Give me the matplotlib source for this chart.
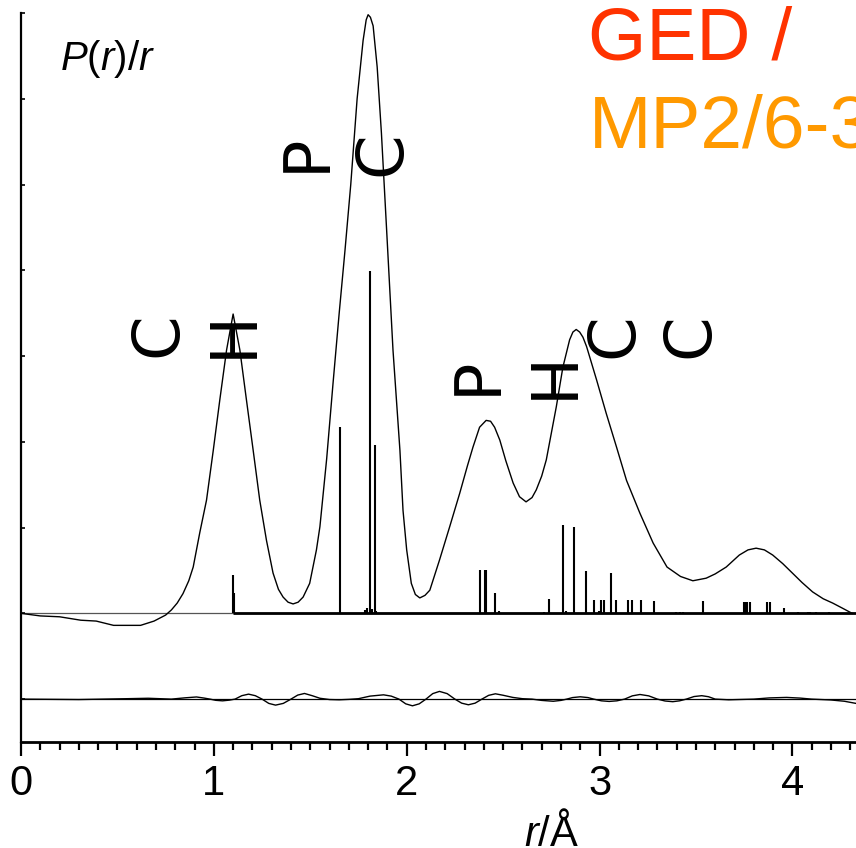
import matplotlib
matplotlib.use("Agg")
import matplotlib.pyplot as plt
import numpy as np

plt.rcParams['font.family'] = ['Liberation Sans', 'DejaVu Sans']
plt.rcParams['mathtext.fontset'] = 'custom'
plt.rcParams['mathtext.it'] = 'Liberation Sans:italic'
plt.rcParams['mathtext.rm'] = 'Liberation Sans'

# ---- data ----
r_curve = [0.00, 0.10, 0.20, 0.31, 0.39, 0.48, 0.62, 0.69, 0.75, 0.78, 0.81, 0.84, 0.87, 0.893,
           0.927, 0.962, 0.997, 1.031, 1.066, 1.100, 1.135, 1.169, 1.204, 1.238, 1.273, 1.307,
           1.335, 1.359, 1.385, 1.411, 1.437, 1.463, 1.497, 1.532, 1.55, 1.585, 1.618, 1.65,
           1.68, 1.71, 1.743, 1.774, 1.79, 1.80, 1.812, 1.826, 1.847, 1.869, 1.896, 1.929,
           1.965, 1.981, 2.00, 2.024, 2.045, 2.068, 2.095, 2.12, 2.17, 2.223, 2.275, 2.315,
           2.344, 2.378, 2.412, 2.435, 2.456, 2.483, 2.514, 2.552, 2.585, 2.619, 2.65, 2.672,
           2.70, 2.724, 2.776, 2.81, 2.845, 2.862, 2.879, 2.897, 2.914, 2.933, 2.985, 3.035,
           3.088, 3.14, 3.209, 3.278, 3.35, 3.42, 3.484, 3.553, 3.60, 3.657, 3.725, 3.77,
           3.812, 3.855, 3.898, 3.95, 4.00, 4.05, 4.105, 4.16, 4.209, 4.26, 4.31]
p_curve = [0.00, -0.03, -0.04, -0.08, -0.09, -0.14, -0.14, -0.09, -0.02, 0.04, 0.12, 0.23, 0.38, 0.54,
           0.94, 1.32, 1.90, 2.49, 3.07, 3.49, 3.07, 2.49, 1.90, 1.32, 0.85, 0.47,
           0.28, 0.19, 0.13, 0.11, 0.13, 0.19, 0.35, 0.74, 1.01, 1.80, 2.68, 3.50,
           4.23, 5.00, 6.00, 6.68, 6.92, 6.98, 6.95, 6.85, 6.37, 5.60, 4.47, 3.07,
           1.90, 1.20, 0.74, 0.35, 0.22, 0.18, 0.21, 0.27, 0.62, 1.01, 1.40, 1.72,
           1.94, 2.17, 2.25, 2.24, 2.17, 2.02, 1.78, 1.52, 1.36, 1.30, 1.35, 1.44,
           1.60, 1.79, 2.41, 2.87, 3.19, 3.28, 3.31, 3.28, 3.22, 3.11, 2.72, 2.33,
           1.94, 1.55, 1.17, 0.82, 0.54, 0.43, 0.38, 0.41, 0.46, 0.54, 0.68, 0.74,
           0.76, 0.74, 0.68, 0.58, 0.47, 0.36, 0.25, 0.17, 0.12, 0.06, 0.00]

r_diff = [0.00, 0.30, 0.55, 0.66, 0.78, 0.85, 0.91, 0.95, 0.98, 1.01, 1.045, 1.08, 1.11, 1.145,
          1.18, 1.215, 1.25, 1.285, 1.32, 1.36, 1.40, 1.435, 1.47, 1.51, 1.55, 1.60, 1.65, 1.70,
          1.75, 1.81, 1.88, 1.92, 1.96, 1.995, 2.03, 2.065, 2.10, 2.135, 2.17, 2.21, 2.25, 2.285,
          2.32, 2.355, 2.39, 2.425, 2.46, 2.50, 2.55, 2.60, 2.65, 2.70, 2.76, 2.80, 2.83, 2.86,
          2.90, 2.94, 2.97, 3.01, 3.05, 3.09, 3.13, 3.17, 3.21, 3.255, 3.30, 3.34, 3.38, 3.415,
          3.45, 3.49, 3.53, 3.565, 3.60, 3.67, 3.80, 3.88, 3.97, 4.04, 4.10, 4.20, 4.27, 4.33]
d_diff = [0.00, -0.005, 0.005, 0.01, 0.00, 0.015, 0.025, 0.012, 0.00, -0.014, -0.02, -0.012, 0.00, 0.04,
          0.058, 0.04, 0.00, -0.05, -0.07, -0.05, 0.00, 0.047, 0.066, 0.04, 0.01, -0.005, -0.008, -0.003,
          0.005, 0.035, 0.05, 0.035, 0.00, -0.055, -0.078, -0.055, 0.00, 0.064, 0.09, 0.064, 0.00, -0.047,
          -0.066, -0.047, 0.00, 0.044, 0.062, 0.045, 0.02, 0.005, 0.00, -0.015, -0.025, -0.015, 0.00, 0.018,
          0.027, 0.018, 0.00, -0.02, -0.027, -0.02, 0.00, 0.038, 0.054, 0.038, 0.00, -0.022, -0.03, -0.02,
          0.00, 0.03, 0.04, 0.028, 0.00, -0.008, 0.00, 0.014, 0.02, 0.012, 0.00, -0.01, -0.025, -0.05]

stick_r = [1.097, 1.103, 1.656, 1.782, 1.792, 1.808, 1.818, 1.834, 1.842,
           2.378, 2.404, 2.413, 2.460, 2.478, 2.710, 2.737, 2.813, 2.827, 2.866,
           2.931, 2.969, 2.995, 3.008, 3.022, 3.062, 3.086, 3.148, 3.167, 3.216,
           3.282, 3.397, 3.415, 3.432, 3.535, 3.748, 3.757, 3.763, 3.782, 3.868,
           3.884, 3.958, 4.030, 4.080, 4.090, 4.120, 4.190]
stick_h = [0.45, 0.24, 2.17, 0.04, 0.06, 3.99, 0.05, 1.96, 0.03,
           0.50, 0.50, 0.50, 0.24, 0.03, 0.02, 0.17, 1.03, 0.03, 1.01,
           0.49, 0.16, 0.03, 0.16, 0.16, 0.47, 0.15, 0.15, 0.15, 0.15,
           0.14, 0.02, 0.02, 0.02, 0.14, 0.13, 0.13, 0.13, 0.13, 0.13,
           0.13, 0.06, 0.02, 0.02, 0.02, 0.02, 0.02]

atom_labels = ["C", "H", "P", "C", "P", "H", "C", "C"]
x_ticks = [0, 1, 2, 3, 4]
x_tick_labels = ["0", "1", "2", "3", "4"]
y_ticks = [-1, 0, 1, 2, 3, 4, 5, 6, 7]

# ---- figure ----
W, H = 856, 848
fig = plt.figure(figsize=(W / 100, H / 100), dpi=100)
ax = fig.add_axes([21 / W, 106 / H, 835 / W, 729 / H])
ax.set_xlim(0, 4.33)
ax.set_ylim(-1.5, 7.0)

# reference lines
ax.axhline(0, color='#555555', lw=0.9, zorder=1)
ax.axhline(-1, color='black', lw=0.9, zorder=1)

# stick baseline + sticks
ax.plot([min(stick_r), 4.33], [0, 0], color='black', lw=2.0, solid_capstyle='butt', zorder=2)
ax.vlines(stick_r, 0, stick_h, color='black', lw=1.5, zorder=2)

# curves
ax.plot(r_curve, p_curve, color='black', lw=1.0, zorder=3, solid_joinstyle='round')
ax.plot(r_diff, np.array(d_diff) - 1, color='black', lw=1.0, zorder=3, solid_joinstyle='round')

# atom labels
label_pos = [(0.710, 3.254), (1.104, 3.254), (1.483, 5.365), (1.876, 5.365),
             (2.369, 2.766), (2.768, 2.777), (3.079, 3.242), (3.473, 3.242)]
for t, (x, y) in zip(atom_labels, label_pos):
    ax.text(x, y, t, rotation=90, ha='center', va='center', fontsize=46,
            family='DejaVu Sans', color='black', zorder=4)

# axes styling
for s in ['top', 'right']:
    ax.spines[s].set_visible(False)
ax.spines['left'].set_linewidth(1.6)
ax.spines['bottom'].set_linewidth(2.0)
ax.set_xticks(x_ticks)
ax.set_xticklabels(x_tick_labels)
ax.set_xticks(np.arange(0, 4.35, 0.1), minor=True)
ax.tick_params(axis='x', which='major', direction='out', length=10, width=1.6,
               labelsize=30, pad=6)
ax.tick_params(axis='x', which='minor', direction='out', length=5.5, width=1.6)
ax.set_yticks(y_ticks)
ax.set_yticklabels([])
ax.tick_params(axis='y', which='major', direction='in', length=3, width=1.2, left=True)

# texts
ax.text((60 - 21) / 835, (742 - 70) / 729, r'$P$($r$)/$r$', transform=ax.transAxes,
        fontsize=29, ha='left', va='baseline')
fig.text(552 / W, 2 / H, r'$r$/Å', fontsize=30, ha='center', va='baseline')
fig.text(588 / W, (H - 60) / H, 'GED /', fontsize=54, color='#FF3300',
         ha='left', va='baseline')
fig.text(589 / W, (H - 148) / H, 'MP2/6-31G*', fontsize=54, color='#FF9900',
         ha='left', va='baseline')

fig.savefig('out.png', dpi=100)
